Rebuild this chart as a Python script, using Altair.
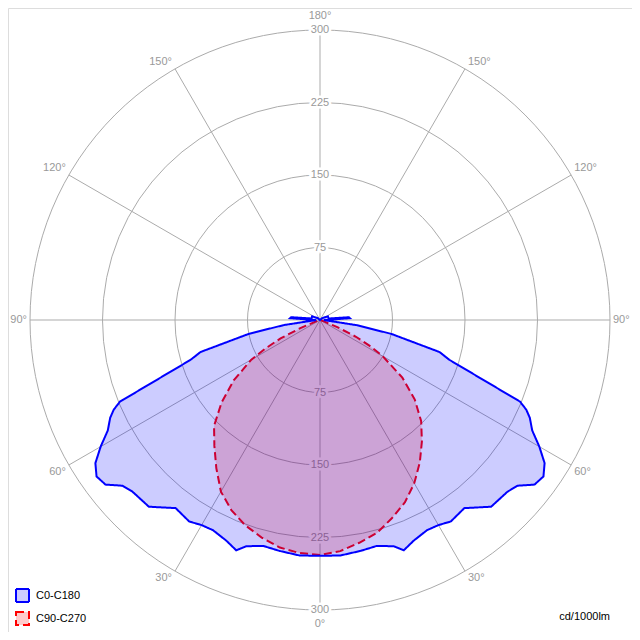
import altair as alt
import pandas as pd

# ---------------- data ----------------
ring_values = [75, 150, 225, 300]
spoke_angles = [0, 30, 60, 90, 120, 150, 180, 210, 240, 270, 300, 330]

# C0-C180 plane (symmetrical half curve), gamma in degrees, cd/1000lm
c0_gamma = [0, 5, 10, 14, 18, 20, 23, 27, 30, 33, 37.5, 42.5, 47.5, 50, 52.5, 55,
            57.5, 60, 62.5, 65, 66.5, 67.8, 72.9, 75, 79, 82, 84.5, 88, 93.5, 95.5,
            100, 115, 130, 150, 180]
c0_cd = [244, 244.5, 242.5, 241, 246, 253.5, 248, 244, 245, 248.5, 245.3, 262, 263,
         266.7, 279.7, 282.2, 275.5, 262, 247.5, 239.5, 232.7, 223.5, 140, 128, 75,
         38, 10, 4, 31, 30, 9, 9, 3, 0, 0]

# C90-C270 plane
c90_gamma = [0, 5, 10, 15, 20, 25, 30, 35, 40, 45, 50, 55, 60, 62.5, 65, 67.5, 70,
             72.5, 75, 90]
c90_cd = [243, 242, 239, 233, 226, 217, 205, 187, 170, 155, 133, 109, 82, 63, 45,
          22, 5, 1, 0, 0]
c270_cd = [243, 240, 234, 228, 218, 208, 195, 180, 164, 148, 128, 104, 75, 58, 41,
           20, 5, 1, 0, 0]

series_names = ["C0-C180", "C90-C270"]
fill_colors = ["rgba(0,0,255,0.2)", "rgba(255,0,0,0.2)"]
stroke_colors = ["#0000ff", "#ff0000"]
dashes = [[1, 0], [8, 4]]

# ---------------- build tables ----------------
rows = []
k = 0
for g, v in zip(c0_gamma, c0_cd):
    rows.append(dict(series="C0-C180", side=-1, gamma=g, cd=v, k=k)); k += 1
for g, v in reversed(list(zip(c0_gamma, c0_cd))):
    rows.append(dict(series="C0-C180", side=1, gamma=g, cd=v, k=k)); k += 1
for g, v in zip(c90_gamma, c90_cd):
    rows.append(dict(series="C90-C270", side=-1, gamma=g, cd=v, k=k)); k += 1
for g, v in reversed(list(zip(c90_gamma, c270_cd))):
    rows.append(dict(series="C90-C270", side=1, gamma=g, cd=v, k=k)); k += 1
curves = pd.DataFrame(rows)

RMAX = 300
OUTER_PX = 290
W = 624
D = (W / 2) * RMAX / OUTER_PX
PXCD = RMAX / OUTER_PX  # cd per pixel

FONT = "Liberation Sans"
FS = 11
GRID = "#ababab"
LABEL = "#999999"

xs = alt.Scale(domain=[-D, D], nice=False, zero=False)
ys = alt.Scale(domain=[-D, D], nice=False, zero=False)

# ---------------- grid ----------------
spokes = alt.Chart(pd.DataFrame({"a": spoke_angles})).transform_calculate(
    x0="0", y0="0",
    x2=f"{RMAX}*sin(datum.a*PI/180)",
    y2=f"-{RMAX}*cos(datum.a*PI/180)",
).mark_rule(color=GRID, strokeWidth=1).encode(
    x=alt.X("x0:Q", scale=xs, axis=None),
    y=alt.Y("y0:Q", scale=ys, axis=None),
    x2="x2:Q", y2="y2:Q",
)

rings = alt.Chart(pd.DataFrame({"r": ring_values})).mark_arc(
    filled=False, color=GRID, strokeWidth=1, theta=0, theta2=6.2832
).encode(
    radius=alt.Radius("r:Q", stack=None,
                      scale=alt.Scale(type="linear", domain=[0, RMAX],
                                      range=[0, OUTER_PX]))
)

ring_lab = pd.DataFrame({"v": ring_values * 2, "sgn": [1] * 4 + [-1] * 4})
rl_base = alt.Chart(ring_lab).transform_calculate(
    xx="0", yy="datum.sgn*datum.v", t="'' + datum.v"
)
rl_enc = dict(x=alt.X("xx:Q", scale=xs, axis=None),
              y=alt.Y("yy:Q", scale=ys, axis=None), text="t:N")
ring_halo = rl_base.mark_text(font=FONT, fontSize=FS, color="white", stroke="white",
                              strokeWidth=5, baseline="middle").encode(**rl_enc)
ring_text = rl_base.mark_text(font=FONT, fontSize=FS, color=LABEL,
                              baseline="middle").encode(**rl_enc)

ang_base = alt.Chart(pd.DataFrame({"a": spoke_angles})).transform_calculate(
    lab="(datum.a <= 180 ? datum.a : 360 - datum.a) + '°'",
    s="sin(datum.a*PI/180)",
    c="cos(datum.a*PI/180)",
).transform_calculate(
    xx=f"(datum.a % 180 == 0) ? 0 : {RMAX}*datum.s + (datum.s > 0 ? 1 : -1)*{3 * PXCD}",
    yy=(f"(datum.a % 180 == 0) ? -({RMAX + 14 * PXCD})*datum.c : "
        f"-{RMAX}*datum.c - (datum.c > 0.01 ? 1 : (datum.c < -0.01 ? -1 : 0))*{7 * PXCD}"),
)
ang_enc = dict(x=alt.X("xx:Q", scale=xs, axis=None),
               y=alt.Y("yy:Q", scale=ys, axis=None), text="lab:N")
ang_c = ang_base.transform_filter("datum.a % 180 == 0").mark_text(
    font=FONT, fontSize=FS, color=LABEL, align="center", baseline="middle").encode(**ang_enc)
ang_r = ang_base.transform_filter("datum.a % 180 != 0 && datum.a < 180").mark_text(
    font=FONT, fontSize=FS, color=LABEL, align="left", baseline="middle").encode(**ang_enc)
ang_l = ang_base.transform_filter("datum.a > 180").mark_text(
    font=FONT, fontSize=FS, color=LABEL, align="right", baseline="middle").encode(**ang_enc)

# ---------------- curves ----------------
leg = alt.Legend(title=None, orient="none", legendX=7, legendY=580, symbolType="square",
                 symbolSize=169, symbolStrokeWidth=2, labelFont=FONT, labelFontSize=FS,
                 labelColor="black", rowPadding=2, labelOffset=6, padding=0)

curve_base = alt.Chart(curves).transform_calculate(
    px="datum.side*datum.cd*sin(datum.gamma*PI/180)",
    py="-datum.cd*cos(datum.gamma*PI/180)",
)
curve_enc = dict(
    x=alt.X("px:Q", scale=xs, axis=None),
    y=alt.Y("py:Q", scale=ys, axis=None),
    order=alt.Order("k:Q"),
    fill=alt.Fill("series:N", scale=alt.Scale(domain=series_names, range=fill_colors), legend=leg),
    stroke=alt.Stroke("series:N", scale=alt.Scale(domain=series_names, range=stroke_colors), legend=leg),
    strokeDash=alt.StrokeDash("series:N", scale=alt.Scale(domain=series_names, range=dashes), legend=leg),
)
red = curve_base.transform_filter("datum.series == 'C90-C270'").mark_line(
    strokeWidth=2, interpolate="linear").encode(**curve_enc)
blue = curve_base.transform_filter("datum.series == 'C0-C180'").mark_line(
    strokeWidth=2, interpolate="linear").encode(**curve_enc)

unit = alt.Chart(pd.DataFrame({"t": ["cd/1000lm"]})).mark_text(
    font=FONT, fontSize=FS, color="black", align="right", baseline="middle"
).encode(x=alt.value(602), y=alt.value(609), text="t:N")

chart = alt.layer(
    spokes, rings, ring_halo, ring_text, ang_c, ang_r, ang_l, red, blue, unit
).properties(
    width=W, height=W, padding=0,
    autosize=alt.AutoSizeParams(type="none"),
).configure_view(stroke=None).configure(background="white")

chart.save("out.html", embed_options={"renderer": "svg", "actions": False})
